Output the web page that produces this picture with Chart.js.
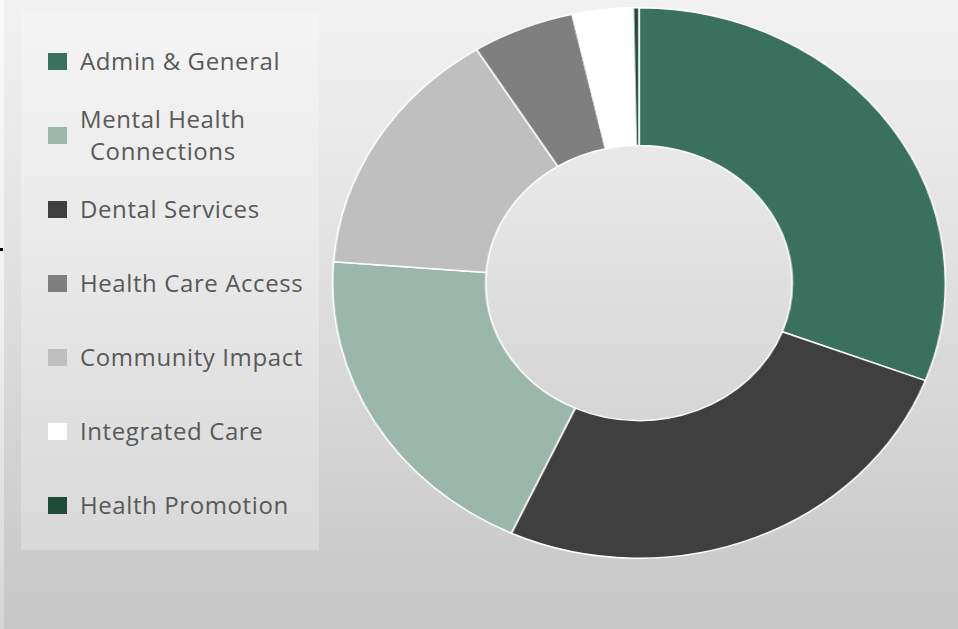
<!DOCTYPE html>
<html>
<head>
<meta charset="utf-8">
<script src="https://cdn.jsdelivr.net/npm/chart.js@4.4.1/dist/chart.umd.min.js"></script>
<style>
  html, body { margin: 0; padding: 0; width: 958px; height: 629px; overflow: hidden; background: #ffffff; }
  #panel { position: absolute; left: 4px; top: 0; width: 954px; height: 629px;
           background: linear-gradient(to bottom, #F2F2F2 0%, #E4E4E4 35%, #C6C6C6 100%); }
  #strip { position: absolute; left: 0; top: 0; width: 4px; height: 629px;
           background: linear-gradient(to bottom, #FAFAFA 0%, #F0F0F0 50%, #D6D6D6 100%); }
  #mark { position: absolute; left: 0; top: 248px; width: 3px; height: 3px; background: #000; }
  #legend { position: absolute; left: 21px; top: 13px; width: 298px; height: 537px;
            background: rgba(255,255,255,0.25); box-sizing: border-box; padding-top: 11px; }
  .item { position: relative; height: 74px; display: flex; align-items: center; }
  .sw { position: absolute; left: 27px; width: 19px; height: 17px; }
  .lbl { position: absolute; left: 59px; font-family: "Open Sans", "Noto Sans", sans-serif;
         font-size: 24px; letter-spacing: 0.6px; color: #595959; line-height: 32px;
         text-align: center; white-space: nowrap; }
  #chartWrap { position: absolute; left: 363px; top: 7px; width: 552px; height: 552px;
               transform: scaleX(1.113); transform-origin: 50% 50%; }
</style>
</head>
<body>
<div id="panel"></div>
<div id="strip"></div>
<div id="mark"></div>
<div id="legend"></div>
<div id="chartWrap"><canvas id="c"></canvas></div>
<script>
// Ring order (clockwise from 12 o'clock)
const categories = ["Admin & General", "Dental Services", "Mental Health Connections",
                    "Community Impact", "Health Care Access", "Integrated Care", "Health Promotion"];
const shares = [30.8, 26.1, 19.4, 14.9, 5.4, 3.2, 0.3];
const colors = ["#3A715E", "#3F3F3F", "#9BB7AB", "#BFBFBF", "#7F7F7F", "#FFFFFF", "#1E4A3A"];
// Legend order as shown
const legendOrder = ["Admin & General", "Mental Health Connections", "Dental Services",
                     "Health Care Access", "Community Impact", "Integrated Care", "Health Promotion"];
const legendLines = { "Mental Health Connections": ["Mental Health", "Connections"] };

const legend = document.getElementById('legend');
legendOrder.forEach(name => {
  const i = categories.indexOf(name);
  const item = document.createElement('div');
  item.className = 'item';
  const sw = document.createElement('div');
  sw.className = 'sw';
  sw.style.background = colors[i];
  const lbl = document.createElement('div');
  lbl.className = 'lbl';
  const lines = legendLines[name] || [name];
  lbl.innerHTML = lines.join('<br>');
  item.appendChild(sw);
  item.appendChild(lbl);
  legend.appendChild(item);
});

new Chart(document.getElementById('c'), {
  type: 'doughnut',
  data: {
    labels: categories,
    datasets: [{
      data: shares,
      backgroundColor: colors,
      borderColor: '#FFFFFF',
      borderWidth: 1.5
    }]
  },
  options: {
    responsive: true,
    maintainAspectRatio: false,
    animation: false,
    cutout: '50%',
    layout: { padding: 0 },
    plugins: { legend: { display: false }, tooltip: { enabled: false } }
  }
});
</script>
</body>
</html>
